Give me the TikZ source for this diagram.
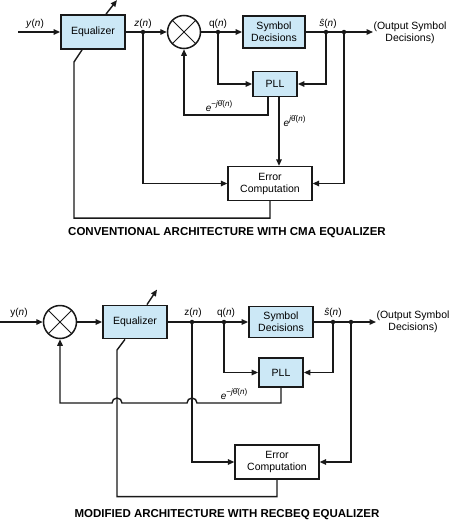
\documentclass[tikz,border=0pt]{standalone}
\usepackage{fontspec}
\setmainfont{Liberation Sans}
\usetikzlibrary{arrows.meta,positioning,calc}
\definecolor{blockfill}{RGB}{204,232,246}
\definecolor{inkline}{RGB}{25,25,25}

\tikzset{
  blk/.style={draw=inkline, fill=blockfill, line width=1.8pt, minimum width=64pt,
              minimum height=34pt, inner sep=1pt, align=center,
              font=\fontsize{10.5}{12}\selectfont},
  errbox/.style={draw=inkline, fill=white, line width=1.3pt, minimum width=84pt,
              minimum height=34pt, inner sep=1pt, align=center,
              font=\fontsize{10.5}{12}\selectfont},
  mixer/.style={draw=inkline, circle, line width=1.5pt, minimum size=33pt, inner sep=0pt,
              path picture={\draw[line width=0.8pt]
                (path picture bounding box.north west) -- (path picture bounding box.south east)
                (path picture bounding box.north east) -- (path picture bounding box.south west);}},
  dot/.style={circle, fill=inkline, inner sep=0pt, minimum size=4.5pt},
  lbl/.style={inner sep=0pt, font=\fontsize{10}{12}\selectfont},
  caption/.style={inner sep=0pt, font=\bfseries\fontsize{11.5}{13}\selectfont}
}
\newcommand{\supsz}[1]{\raisebox{0.9ex}{\fontsize{8}{9}\selectfont #1}}
\newcommand{\expneg}{\textit{e}\supsz{−\textit{j}\^{θ}(\textit{n})}}
\newcommand{\exppos}{\textit{e}\supsz{\textit{j}\^{θ}(\textit{n})}}

\begin{document}
\begin{tikzpicture}[x=1pt, y=-1pt, line width=1.4pt, draw=inkline,
                    >={Triangle[length=6.5pt,width=5.5pt]}]
\useasboundingbox (0,0) rectangle (450,522);

% conventional architecture
\node[blk] (eqA) at (93,32) {Equalizer};
\node[mixer] (mulA) at (184,32) {};
\node[blk, minimum width=62pt, minimum height=32pt] (symA) at (274,32) {Symbol\\Decisions};
\node[blk, minimum width=44pt, minimum height=25pt] (pllA) at (275,84) {PLL};
\node[errbox] (errA) at (270,183.5) {Error\\Computation};
\node[dot] (zA) at (143,32) {};
\node[dot] (qA) at (218,32) {};
\node[dot] (sA) at (326,32) {};
\node[dot] (oA) at (344,32) {};
\coordinate (inA) at (18,32);
\coordinate (outA) at (373,32);
\coordinate (fbA) at (184,115);
\coordinate (adjA) at (74,62);
\coordinate (eA) at ($(pllA.south)+(4,0)$);

\draw[->] (inA) -- (eqA);
\draw[->] (eqA) -- (mulA);
\draw[->] (mulA) -- (symA);
\draw[->] (symA) -- (outA);
\draw[->] (qA.center) |- (pllA);
\draw[->] (sA.center) |- (pllA);
\draw[->] ($(pllA.south)+(-7,0)$) |- (fbA) -- (mulA);
\draw[->] (eA) -- (eA |- errA.north);
\draw[->] (zA.center) |- (errA);
\draw[->] (oA.center) |- (errA);
\draw (errA.south) -- ++(0,17) -| (adjA) -- ($(eqA.south)+(-11,0)$);
\draw[->] ($(eqA.north)+(13,0)$) -- ++(11,-14);

\node[lbl, anchor=base] at (35,27) {\textit{y}(\textit{n})};
\node[lbl, anchor=base] at (143,27) {\textit{z}(\textit{n})};
\node[lbl, anchor=base] at (218,27) {q(\textit{n})};
\node[lbl, anchor=base] at (328,27) {\textit{ŝ}(\textit{n})};
\node[lbl, anchor=base] at (219,111) {\expneg};
\node[lbl, anchor=base west] at (283,126) {\exppos};
\node[lbl, align=center, font=\fontsize{10.5}{12}\selectfont] at (410,33) {(Output Symbol\\Decisions)};
\node[caption] (capA) at (227,233) {CONVENTIONAL ARCHITECTURE WITH CMA EQUALIZER};

% modified architecture
\node[mixer] (mulB) at (60,322) {};
\node[blk, minimum height=33pt] (eqB) at (135,322) {Equalizer};
\node[blk, minimum height=31pt] (symB) at (281,322) {Symbol\\Decisions};
\node[blk, minimum width=44pt, minimum height=29pt] (pllB) at (281,372.5) {PLL};
\node[errbox] (errB) at (277,462) {Error\\Computation};
\node[dot] (zB) at (192,322) {};
\node[dot] (qB) at (224,322) {};
\node[dot] (sB) at (333,322) {};
\node[dot] (oB) at (351,322) {};
\coordinate (inB) at (0,322);
\coordinate (outB) at (376,322);
\coordinate (fbB) at (60,403);
\coordinate (adjB) at (117,350);

\draw[->] (inB) -- (mulB);
\draw[->] (mulB) -- (eqB);
\draw[->] (eqB) -- (symB);
\draw[->] (symB) -- (outB);
\draw[->] (qB.center) |- (pllB);
\draw[->] (sB.center) |- (pllB);
\draw[->] (zB.center) |- (errB);
\draw[->] (oB.center) |- (errB);
\draw (errB.south) -- ++(0,17) -| (adjB) -- ($(eqB.south)+(-10,0)$);
\draw[->] ($(eqB.north)+(12,0)$) -- ++(10,-15);
\draw[->] (pllB.south) |- ($(zB |- fbB)+(5,0)$)
  arc[start angle=0, end angle=-180, radius=5] -- ($(adjB |- fbB)+(5,0)$)
  arc[start angle=0, end angle=-180, radius=5] -- (fbB) -- (mulB);

\node[lbl, anchor=base] at (19,315) {y(\textit{n})};
\node[lbl, anchor=base] at (193,315) {z(\textit{n})};
\node[lbl, anchor=base] at (226,315) {q(\textit{n})};
\node[lbl, anchor=base] at (333,315) {\textit{ŝ}(\textit{n})};
\node[lbl, anchor=base] at (234,399) {\expneg};
\node[lbl, align=center, font=\fontsize{10.5}{12}\selectfont] at (413,322) {(Output Symbol\\Decisions)};
\node[caption] (capB) at (227,515) {MODIFIED ARCHITECTURE WITH RECBEQ EQUALIZER};
\end{tikzpicture}
\end{document}
